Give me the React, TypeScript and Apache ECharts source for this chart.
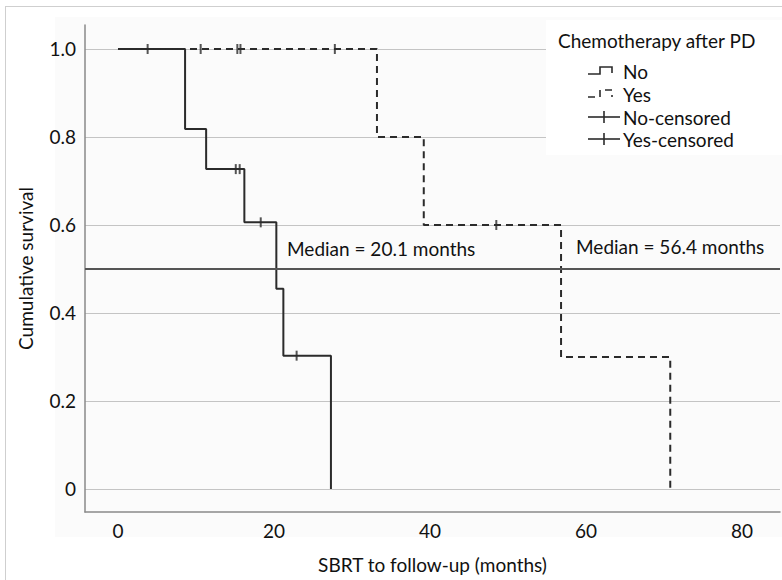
import React, { useEffect, useRef } from "react";
import * as echarts from "echarts";

// Kaplan-Meier steps: time (months) and cumulative survival
const noTimes = [0, 8.6, 11.3, 16.2, 20.3, 21.2, 27.3];
const noSurv = [1, 0.818, 0.727, 0.606, 0.455, 0.303, 0];
const noCensorTimes = [3.8, 15.1, 15.6, 18.3, 22.9];
const noCensorSurv = [1, 0.727, 0.727, 0.606, 0.303];

const yesTimes = [0, 33.2, 39.2, 56.8, 70.8];
const yesSurv = [1, 0.8, 0.6, 0.3, 0];
const yesCensorTimes = [10.6, 15.3, 15.7, 27.8, 48.5];
const yesCensorSurv = [1, 1, 1, 1, 0.6];

const medianLevel = 0.5;
const xTicks = [0, 20, 40, 60, 80];
const yTicks = [0, 0.2, 0.4, 0.6, 0.8, 1.0];
const legendTitle = "Chemotherapy after PD";
const legendItems = ["No", "Yes", "No-censored", "Yes-censored"];
const medianTexts = ["Median = 20.1 months", "Median = 56.4 months"];

const FONT = "Lato";
const FS = 19;
const INK = "#2b2b2b";

function zip(a: number[], b: number[]) {
  return a.map((v, i) => [v, b[i]]);
}

export default function App() {
  const ref = useRef<HTMLDivElement>(null);
  useEffect(() => {
    if (!ref.current) return;
    const chart = echarts.init(ref.current, null, { renderer: "svg" });
    const textStyle = (t: string, x: number, y: number, extra: any = {}) => ({
      type: "text",
      x,
      y,
      z: 20,
      style: {
        text: t,
        fontFamily: FONT,
        fontSize: FS,
        fill: "#111",
        textVerticalAlign: "middle",
        ...extra,
      },
    });
    const lx = 588;
    const ly = [71, 94, 117, 139];
    const option: any = {
      animation: false,
      grid: { left: 85, right: 2, top: 25, bottom: 68 },
      xAxis: {
        type: "value",
        min: -4.23,
        max: 84.87,
        axisLine: { show: true, onZero: false, lineStyle: { color: "#8a8a8a", width: 1.5 } },
        axisTick: { show: false },
        splitLine: { show: false },
        axisLabel: { customValues: xTicks, fontFamily: FONT, fontSize: FS, color: "#111", margin: 9 },
        name: "SBRT to follow-up (months)",
        nameLocation: "middle",
        nameGap: 43,
        nameTextStyle: { fontFamily: FONT, fontSize: FS, color: "#111" },
      },
      yAxis: {
        type: "value",
        min: -0.0523,
        max: 1.0545,
        axisLine: { show: true, onZero: false, lineStyle: { color: "#8a8a8a", width: 1.5 } },
        axisTick: { show: false, customValues: yTicks },
        splitLine: { show: true, lineStyle: { color: "#c4c4c4", width: 1 } },
        axisLabel: {
          customValues: yTicks,
          fontFamily: FONT,
          fontSize: FS,
          color: "#111",
          margin: 9,
          formatter: (v: number) => (v === 0 ? "0" : v.toFixed(1)),
        },
        name: "Cumulative survival",
        nameLocation: "middle",
        nameGap: 50,
        nameTextStyle: { fontFamily: FONT, fontSize: FS, color: "#111" },
      },
      series: [
        {
          name: "No",
          type: "line",
          step: "end",
          z: 4,
          showSymbol: false,
          data: zip(noTimes, noSurv),
          lineStyle: { color: INK, width: 2 },
          markLine: {
            silent: true,
            symbol: "none",
            label: { show: false },
            lineStyle: { color: "#555", width: 2, type: "solid" },
            data: [{ yAxis: medianLevel }],
          },
        },
        {
          name: "Yes",
          type: "line",
          step: "end",
          z: 4,
          showSymbol: false,
          data: zip(yesTimes, yesSurv),
          lineStyle: { color: INK, width: 2, type: [7, 5] },
        },
        {
          name: "No-censored",
          type: "scatter",
          z: 5,
          symbol: "rect",
          symbolSize: [2, 10],
          itemStyle: { color: INK },
          data: zip(noCensorTimes, noCensorSurv),
        },
        {
          name: "Yes-censored",
          type: "scatter",
          z: 5,
          symbol: "rect",
          symbolSize: [2, 10],
          itemStyle: { color: INK },
          data: zip(yesCensorTimes, yesCensorSurv),
        },
      ],
      graphic: [
        {
          type: "rect",
          z: -5,
          shape: { x: 55, y: 17, width: 727, height: 520 },
          style: { fill: "#fbfbfb" },
        },
        { type: "line", z: 1, shape: { x1: 5.5, y1: 6, x2: 5.5, y2: 580 }, style: { stroke: "#cfcfcf", lineWidth: 1 } },
        { type: "line", z: 1, shape: { x1: 5, y1: 6.5, x2: 782, y2: 6.5 }, style: { stroke: "#cfcfcf", lineWidth: 1 } },
        {
          type: "rect",
          z: 10,
          shape: { x: 546, y: 20, width: 236, height: 135 },
          style: { fill: "#ffffff" },
        },
        textStyle(legendTitle, 558, 40),
        {
          type: "polyline",
          z: 20,
          shape: { points: [[lx, ly[0] + 3], [lx + 12, ly[0] + 3], [lx + 12, ly[0] - 4], [lx + 24, ly[0] - 4], [lx + 24, ly[0] + 2]] },
          style: { stroke: INK, lineWidth: 1.6, fill: null },
        },
        {
          type: "polyline",
          z: 20,
          shape: { points: [[lx, ly[1] + 3], [lx + 12, ly[1] + 3], [lx + 12, ly[1] - 4], [lx + 24, ly[1] - 4], [lx + 24, ly[1] + 3]] },
          style: { stroke: INK, lineWidth: 1.6, fill: null, lineDash: [7, 5] },
        },
        { type: "line", z: 20, shape: { x1: lx, y1: ly[2], x2: lx + 32, y2: ly[2] }, style: { stroke: INK, lineWidth: 1.6 } },
        { type: "line", z: 20, shape: { x1: lx + 16, y1: ly[2] - 6, x2: lx + 16, y2: ly[2] + 6 }, style: { stroke: INK, lineWidth: 1.6 } },
        { type: "line", z: 20, shape: { x1: lx, y1: ly[3], x2: lx + 32, y2: ly[3] }, style: { stroke: INK, lineWidth: 1.6 } },
        { type: "line", z: 20, shape: { x1: lx + 16, y1: ly[3] - 6, x2: lx + 16, y2: ly[3] + 6 }, style: { stroke: INK, lineWidth: 1.6 } },
        textStyle(legendItems[0], 623, ly[0]),
        textStyle(legendItems[1], 623, ly[1]),
        textStyle(legendItems[2], 623, ly[2]),
        textStyle(legendItems[3], 623, ly[3]),
        textStyle(medianTexts[0], 287, 248),
        textStyle(medianTexts[1], 576, 246),
      ],
    };
    chart.setOption(option);
    return () => chart.dispose();
  }, []);
  return (
    <div
      ref={ref}
      style={{ position: "fixed", left: 0, top: 0, width: 782, height: 580, background: "#fff" }}
    />
  );
}
